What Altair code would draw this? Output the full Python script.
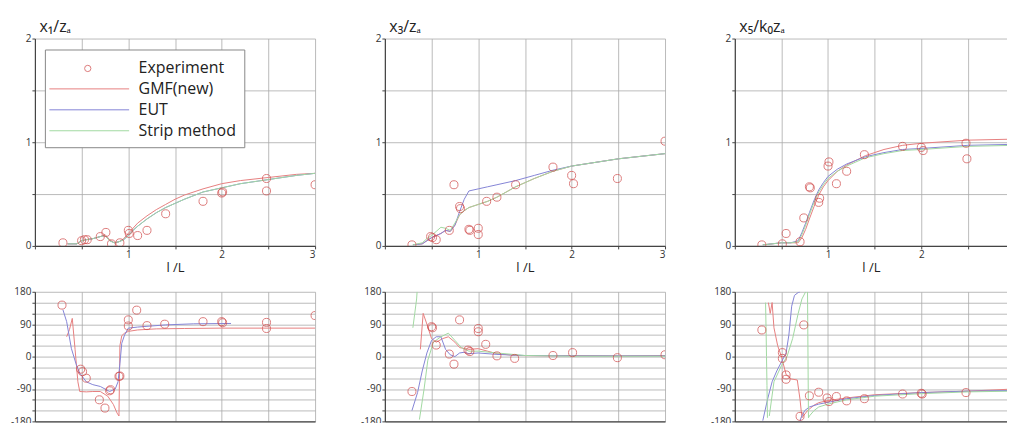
import altair as alt
import pandas as pd

FONT = "Open Sans"
LEGEND_SERIES = ["Experiment", "GMF(new)", "EUT", "Strip method"]
LEGEND_COLORS = ["rgba(0,0,0,0)", "#e68080", "#8585d6", "#a2d9a2"]
EXP_COLOR = "#cf4646"

# ---------------- amplitude panel 1 : x1/za ----------------
a1_exp_x = [0.30, 0.50, 0.53, 0.56, 0.70, 0.76, 0.82, 0.91, 1.00, 1.01, 1.10, 1.20, 1.40, 1.80, 2.00, 2.01, 2.48, 2.48, 3.00]
a1_exp_y = [0.03, 0.05, 0.06, 0.06, 0.09, 0.13, 0.02, 0.03, 0.15, 0.12, 0.10, 0.15, 0.31, 0.43, 0.51, 0.52, 0.65, 0.53, 0.59]
a1_x = [0.35, 0.45, 0.50, 0.55, 0.62, 0.70, 0.75, 0.80, 0.85, 0.90, 0.95, 1.00, 1.05, 1.10, 1.20, 1.30, 1.40, 1.50, 1.60, 1.80, 2.00, 2.20, 2.50, 2.80, 3.00]
a1_gmf = [0.02, 0.02, 0.05, 0.06, 0.07, 0.09, 0.11, 0.06, 0.03, 0.04, 0.07, 0.12, 0.17, 0.22, 0.29, 0.35, 0.40, 0.45, 0.49, 0.55, 0.60, 0.63, 0.66, 0.69, 0.70]
a1_eut = [0.02, 0.02, 0.05, 0.06, 0.07, 0.09, 0.10, 0.05, 0.03, 0.04, 0.06, 0.10, 0.15, 0.19, 0.26, 0.32, 0.37, 0.41, 0.45, 0.52, 0.56, 0.60, 0.64, 0.68, 0.70]
a1_strip = [0.02, 0.02, 0.05, 0.06, 0.07, 0.09, 0.10, 0.05, 0.03, 0.04, 0.06, 0.10, 0.15, 0.19, 0.26, 0.32, 0.37, 0.41, 0.45, 0.52, 0.56, 0.60, 0.64, 0.68, 0.70]

# ---------------- amplitude panel 2 : x3/za ----------------
a2_exp_x = [0.29, 0.49, 0.51, 0.55, 0.69, 0.74, 0.80, 0.81, 0.90, 0.91, 1.00, 1.00, 1.09, 1.20, 1.40, 1.80, 2.00, 2.02, 2.49, 3.00]
a2_exp_y = [0.01, 0.09, 0.08, 0.06, 0.15, 0.59, 0.38, 0.36, 0.16, 0.15, 0.17, 0.11, 0.43, 0.47, 0.59, 0.76, 0.68, 0.60, 0.65, 1.01]
a2_x = [0.30, 0.40, 0.45, 0.50, 0.55, 0.60, 0.65, 0.70, 0.75, 0.80, 0.85, 0.90, 1.00, 1.10, 1.20, 1.40, 1.60, 1.80, 2.00, 2.50, 3.00]
a2_gmf = [0.01, 0.02, 0.05, 0.08, 0.10, 0.12, 0.15, 0.14, 0.20, 0.30, 0.34, 0.37, 0.40, 0.43, 0.47, 0.57, 0.65, 0.72, 0.77, 0.84, 0.89]
a2_eut = [0.01, 0.02, 0.05, 0.08, 0.10, 0.12, 0.15, 0.14, 0.20, 0.33, 0.45, 0.53, 0.55, 0.57, 0.59, 0.63, 0.68, 0.73, 0.77, 0.84, 0.89]
a2_strip = [0.01, 0.03, 0.07, 0.10, 0.14, 0.18, 0.17, 0.15, 0.22, 0.30, 0.34, 0.37, 0.40, 0.43, 0.47, 0.57, 0.65, 0.72, 0.77, 0.84, 0.89]

# ---------------- amplitude panel 3 : x5/k0za ----------------
a3_exp_x = [0.29, 0.51, 0.55, 0.70, 0.74, 0.80, 0.81, 0.90, 0.91, 1.00, 1.01, 1.09, 1.20, 1.39, 1.80, 2.00, 2.02, 2.48, 2.49]
a3_exp_y = [0.01, 0.02, 0.12, 0.04, 0.27, 0.57, 0.56, 0.42, 0.46, 0.77, 0.81, 0.60, 0.72, 0.88, 0.96, 0.95, 0.92, 0.99, 0.84]
a3_x = [0.30, 0.40, 0.50, 0.60, 0.68, 0.72, 0.76, 0.80, 0.85, 0.90, 0.95, 1.00, 1.10, 1.20, 1.40, 1.60, 1.80, 2.00, 2.50, 3.00]
a3_gmf = [0.01, 0.02, 0.03, 0.03, 0.03, 0.08, 0.16, 0.26, 0.38, 0.49, 0.57, 0.63, 0.72, 0.78, 0.87, 0.93, 0.97, 0.99, 1.02, 1.03]
a3_eut = [0.01, 0.02, 0.03, 0.03, 0.05, 0.13, 0.22, 0.32, 0.44, 0.54, 0.61, 0.67, 0.74, 0.79, 0.86, 0.90, 0.93, 0.94, 0.97, 0.98]
a3_strip = [0.01, 0.02, 0.03, 0.03, 0.04, 0.11, 0.20, 0.30, 0.42, 0.52, 0.59, 0.65, 0.72, 0.77, 0.85, 0.89, 0.92, 0.93, 0.96, 0.97]

# ---------------- phase panel 1 ----------------
p1_exp_x = [0.29, 0.49, 0.51, 0.55, 0.69, 0.75, 0.80, 0.81, 0.90, 0.91, 1.00, 1.00, 1.09, 1.20, 1.39, 1.80, 2.00, 2.01, 2.48, 2.48, 3.00]
p1_exp_y = [143, -35, -42, -60, -120, -143, -95, -92, -55, -54, 102, 85, 129, 86, 90, 97, 97, 94, 95, 78, 114]
p1_gmf_x = [0.34, 0.37, 0.40, 0.43, 0.46, 0.48, 0.55, 0.62, 0.70, 0.78, 0.84, 0.88, 0.90, 0.91, 0.93, 0.96, 1.00, 1.10, 1.30, 1.60, 2.00, 2.50, 3.00]
p1_gmf_y = [55, 75, 106, 20, -70, -97, -98, -97, -97, -110, -133, -157, -165, 30, 58, 65, 70, 74, 77, 78, 79, 79, 79]
p1_eut_x = [0.30, 0.34, 0.39, 0.44, 0.48, 0.55, 0.62, 0.70, 0.80, 0.86, 0.89, 0.91, 0.93, 0.96, 1.00, 1.10, 1.20, 1.40, 1.70, 2.10]
p1_eut_y = [130, 97, 23, -20, -46, -70, -78, -83, -97, -90, -70, -20, 37, 60, 79, 82, 84, 88, 91, 92]

# ---------------- phase panel 2 ----------------
p2_exp_x = [0.29, 0.50, 0.51, 0.55, 0.69, 0.74, 0.80, 0.89, 0.91, 1.00, 1.00, 1.08, 1.20, 1.39, 1.80, 2.01, 2.49, 3.00]
p2_exp_y = [-97, 83, 80, 32, 7, -21, 102, 18, 14, 69, 78, 34, 2, -5, 3, 11, -3, 5]
p2_gmf_x = [0.38, 0.41, 0.45, 0.50, 0.55, 0.62, 0.68, 0.75, 0.80, 0.90, 1.00, 1.10, 1.20, 1.40, 1.80, 2.00, 2.50, 3.00]
p2_gmf_y = [20, 120, 90, 50, 40, 50, 55, 40, 25, 20, 22, 15, 8, 3, 2, 3, 2, 3]
p2_eut_x = [0.29, 0.35, 0.40, 0.45, 0.50, 0.55, 0.60, 0.65, 0.70, 0.75, 0.80, 0.85, 0.90, 1.00, 1.20, 1.50, 2.00, 3.00]
p2_eut_y = [-150, -100, -40, 10, 45, 55, 55, 20, 5, 0, 10, 12, 8, 10, 6, 3, 2, 2]
p2_strip_a_x = [0.30, 0.32, 0.34, 0.345]
p2_strip_a_y = [80, 120, 160, 180]
p2_strip_b_x = [0.37, 0.42, 0.46, 0.52, 0.60, 0.68, 0.75, 0.82, 0.90, 1.00, 1.20, 1.50, 2.00, 3.00]
p2_strip_b_y = [-175, -90, -10, 40, 55, 65, 45, 25, 15, 15, 10, 3, 1, 1]

# ---------------- phase panel 3 ----------------
p3_exp_x = [0.29, 0.51, 0.51, 0.55, 0.55, 0.70, 0.74, 0.80, 0.90, 0.99, 1.01, 1.09, 1.20, 1.39, 1.80, 2.00, 2.01, 2.48]
p3_exp_y = [74, 11, -5, -51, -63, -166, 88, -109, -99, -115, -125, -111, -123, -117, -104, -102, -104, -100]
p3_gmf_x = [0.36, 0.38, 0.40, 0.42, 0.46, 0.50, 0.55, 0.60, 0.67, 0.70, 0.72, 0.78, 0.85, 0.90, 1.00, 1.20, 1.50, 2.00, 2.50, 3.00]
p3_gmf_y = [150, 120, 150, 80, 30, 0, -50, -62, -65, -120, -170, -150, -135, -128, -122, -115, -106, -100, -96, -90]
p3_eut_a_x = [0.30, 0.35, 0.40, 0.45, 0.50, 0.55, 0.58, 0.61, 0.64, 0.68, 0.70]
p3_eut_a_y = [-178, -120, -70, -40, -15, 10, 60, 140, 170, 178, 180]
p3_eut_b_x = [0.70, 0.71, 0.75, 0.80, 0.90, 1.00, 1.20, 1.50, 2.00, 2.50, 3.00]
p3_eut_b_y = [-180, -170, -150, -140, -132, -127, -117, -108, -100, -96, -94]
p3_strip_a_x = [0.33, 0.335, 0.34, 0.345, 0.35]
p3_strip_a_y = [150, 80, 0, -80, -170]
p3_strip_b_x = [0.37, 0.42, 0.50, 0.56, 0.62, 0.68, 0.72, 0.76]
p3_strip_b_y = [-165, -70, -25, 0, 50, 120, 160, 180]
p3_strip_c_x = [0.78, 0.785, 0.79, 0.80, 0.85, 0.90, 1.00, 1.20, 1.50, 2.00, 2.50, 3.00]
p3_strip_c_y = [180, 0, -170, -165, -150, -140, -132, -120, -110, -103, -98, -96]

TITLES = ["x\u2081/z\u2090", "x\u2083/z\u2090", "x\u2085/k\u2080z\u2090"]


def exp_frame(xs, ys):
    return pd.DataFrame({"x": xs, "y": ys, "series": "Experiment"})


def line_frame(parts):
    frames = []
    for i, (series, xs, ys) in enumerate(parts):
        frames.append(pd.DataFrame({"x": xs, "y": ys, "series": series, "key": f"{series}-{i}"}))
    return pd.concat(frames, ignore_index=True)


# legend box: all four labels, with line symbols (the Experiment line is invisible)
LINE_LEGEND = alt.Legend(
    orient="none", legendX=10, legendY=11, title=None,
    direction="vertical", fillColor="white", strokeColor="#888888", padding=8,
    labelFont=FONT, labelFontSize=16, labelColor="#222222",
    symbolSize=400, symbolStrokeWidth=1, symbolType="M-4,0L4,0",
    symbolOffset=26, labelOffset=39, rowPadding=2, zindex=1,
)
# the circle drawn over the Experiment row
EXP_LEGEND = alt.Legend(
    orient="none", legendX=10, legendY=16, title=None, direction="vertical", padding=6,
    labelFont=FONT, labelFontSize=16, labelExpr="''",
    symbolSize=40, symbolStrokeWidth=1, symbolStrokeColor=EXP_COLOR, symbolFillColor="transparent",
    symbolOffset=29, labelOffset=41, zindex=2,
)


def panel(exp_df, line_df, xmax, width, height, kind, title=None, legends=(None, None)):
    xgrid = [v for v in [0, 0.5, 1, 1.5, 2, 2.5, 3] if v <= xmax]
    if kind == "amp":
        ydom = [0, 2]
        yaxis = alt.Axis(values=[0, 0.5, 1, 1.5, 2],
                         labelExpr="datum.value % 1 === 0 ? '' + datum.value : ''",
                         title=title, titleAngle=0, titleAlign="left", titleBaseline="alphabetic",
                         titleX=4, titleY=-7, titleFontSize=16, titleFontWeight="normal",
                         titleFont=FONT, titleColor="#222222")
        xaxis = alt.Axis(values=xgrid,
                         labelExpr="datum.value % 1 === 0 && datum.value > 0 ? '' + datum.value : ''",
                         title="l /L", titleFontSize=13, titleFontWeight="normal", titleFont=FONT,
                         titleColor="#222222", titlePadding=2)
    else:
        ydom = [-180, 180]
        yaxis = alt.Axis(values=list(range(-180, 181, 30)),
                         labelExpr="datum.value % 90 === 0 ? '' + datum.value : ''",
                         title=None)
        xaxis = alt.Axis(values=xgrid, labels=False, ticks=False, title=None)
    x = alt.X("x:Q", scale=alt.Scale(domain=[0, xmax], nice=False, zero=False), axis=xaxis)
    y = alt.Y("y:Q", scale=alt.Scale(domain=ydom, nice=False, zero=False), axis=yaxis)
    color = alt.Color("series:N", scale=alt.Scale(domain=LEGEND_SERIES, range=LEGEND_COLORS),
                      legend=legends[0])
    shape = alt.Shape("series:N", scale=alt.Scale(domain=["Experiment"], range=["circle"]), legend=legends[1])
    lines = alt.Chart(line_df).mark_line(strokeWidth=1, clip=True).encode(
        x=x, y=y, color=color, detail="key:N")
    points = alt.Chart(exp_df).mark_point(filled=False, size=65, strokeWidth=1, clip=True,
                                          color=EXP_COLOR).encode(x=x, y=y, shape=shape)
    return alt.layer(lines, points).properties(width=width, height=height)


W = 281
W3 = 273
X3 = 2.92
HT = 208
HB = 130

top1 = panel(exp_frame(a1_exp_x, a1_exp_y),
             line_frame([("GMF(new)", a1_x, a1_gmf), ("EUT", a1_x, a1_eut), ("Strip method", a1_x, a1_strip)]),
             3, W, HT, "amp", TITLES[0], (LINE_LEGEND, EXP_LEGEND))
top2 = panel(exp_frame(a2_exp_x, a2_exp_y),
             line_frame([("GMF(new)", a2_x, a2_gmf), ("EUT", a2_x, a2_eut), ("Strip method", a2_x, a2_strip)]),
             3, W, HT, "amp", TITLES[1])
top3 = panel(exp_frame(a3_exp_x, a3_exp_y),
             line_frame([("GMF(new)", a3_x, a3_gmf), ("EUT", a3_x, a3_eut), ("Strip method", a3_x, a3_strip)]),
             X3, W3, HT, "amp", TITLES[2])

bot1 = panel(exp_frame(p1_exp_x, p1_exp_y),
             line_frame([("GMF(new)", p1_gmf_x, p1_gmf_y), ("EUT", p1_eut_x, p1_eut_y)]),
             3, W, HB, "phase")
bot2 = panel(exp_frame(p2_exp_x, p2_exp_y),
             line_frame([("GMF(new)", p2_gmf_x, p2_gmf_y), ("EUT", p2_eut_x, p2_eut_y),
                         ("Strip method", p2_strip_a_x, p2_strip_a_y),
                         ("Strip method", p2_strip_b_x, p2_strip_b_y)]),
             3, W, HB, "phase")
bot3 = panel(exp_frame(p3_exp_x, p3_exp_y),
             line_frame([("GMF(new)", p3_gmf_x, p3_gmf_y),
                         ("EUT", p3_eut_a_x, p3_eut_a_y), ("EUT", p3_eut_b_x, p3_eut_b_y),
                         ("Strip method", p3_strip_a_x, p3_strip_a_y),
                         ("Strip method", p3_strip_b_x, p3_strip_b_y),
                         ("Strip method", p3_strip_c_x, p3_strip_c_y)]),
             X3, W3, HB, "phase")


def column(t, b):
    return alt.vconcat(t, b, spacing=12).resolve_scale(color="independent", shape="independent") \
        .resolve_legend(color="independent", shape="independent")


chart = alt.hconcat(column(top1, bot1), column(top2, bot2), column(top3, bot3), spacing=44) \
    .resolve_scale(color="independent", shape="independent") \
    .resolve_legend(color="independent", shape="independent") \
    .properties(padding={"left": 2, "top": 10, "right": 0, "bottom": 0}, background="white") \
    .configure_view(stroke=None) \
    .configure_axis(domainColor="#444444", domainWidth=1.2, gridColor="#aaaaaa", gridWidth=0.8,
                    tickColor="#444444", tickSize=3, labelPadding=1, labelFont=FONT, labelFontSize=10,
                    labelColor="#333333", labelOverlap=False)

chart.save("out.html", embed_options={"renderer": "svg", "actions": False})
